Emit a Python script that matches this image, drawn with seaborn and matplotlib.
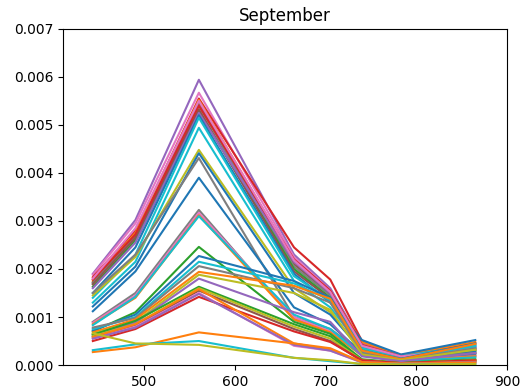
import numpy as np
import pandas as pd
import matplotlib
matplotlib.use("Agg")
import matplotlib.pyplot as plt
import seaborn as sns

bands = [443, 490, 560, 665, 705, 740, 783, 865]

r443 = [0.00190, 0.00188, 0.00183, 0.00175, 0.00172, 0.00170, 0.00163, 0.00168, 0.00160, 0.00150,
        0.00140, 0.00130, 0.00178, 0.00180, 0.00145, 0.00122, 0.00150, 0.00112, 0.00090, 0.00088,
        0.00085, 0.00083, 0.00070, 0.00072, 0.00075, 0.00078, 0.00068, 0.00065, 0.00062, 0.00063,
        0.00060, 0.00058, 0.00055, 0.00050, 0.00058, 0.00055, 0.00027, 0.00031, 0.00066]
r490 = [0.00302, 0.00295, 0.00280, 0.00275, 0.00270, 0.00268, 0.00260, 0.00265, 0.00255, 0.00245,
        0.00230, 0.00215, 0.00272, 0.00285, 0.00225, 0.00205, 0.00230, 0.00195, 0.00150, 0.00145,
        0.00140, 0.00142, 0.00110, 0.00105, 0.00100, 0.00098, 0.00095, 0.00090, 0.00088, 0.00092,
        0.00085, 0.00082, 0.00080, 0.00075, 0.00085, 0.00078, 0.00037, 0.00043, 0.00045]
r560 = [0.00594, 0.00567, 0.00555, 0.00552, 0.00545, 0.00540, 0.00530, 0.00532, 0.00525, 0.00520,
        0.00515, 0.00494, 0.00540, 0.00550, 0.00448, 0.00441, 0.00431, 0.00390, 0.00323, 0.00317,
        0.00312, 0.00310, 0.00246, 0.00227, 0.00215, 0.00206, 0.00194, 0.00188, 0.00180, 0.00163,
        0.00160, 0.00155, 0.00150, 0.00142, 0.00158, 0.00148, 0.00068, 0.00050, 0.00042]
r665 = [0.00230, 0.00225, 0.00245, 0.00215, 0.00210, 0.00205, 0.00200, 0.00195, 0.00215, 0.00190,
        0.00185, 0.00175, 0.00220, 0.00218, 0.00160, 0.00150, 0.00100, 0.00120, 0.00095, 0.00100,
        0.00095, 0.00105, 0.00090, 0.00175, 0.00170, 0.00160, 0.00165, 0.00150, 0.00110, 0.00085,
        0.00080, 0.00075, 0.00040, 0.00070, 0.00045, 0.00042, 0.00045, 0.00015, 0.00015]
r705 = [0.00160, 0.00155, 0.00178, 0.00150, 0.00148, 0.00145, 0.00140, 0.00138, 0.00150, 0.00130,
        0.00135, 0.00120, 0.00155, 0.00152, 0.00110, 0.00105, 0.00075, 0.00085, 0.00070, 0.00070,
        0.00068, 0.00075, 0.00065, 0.00140, 0.00135, 0.00130, 0.00138, 0.00115, 0.00090, 0.00060,
        0.00055, 0.00050, 0.00030, 0.00048, 0.00032, 0.00030, 0.00035, 0.00008, 0.00010]
r740 = [0.00045, 0.00042, 0.00050, 0.00048, 0.00040, 0.00038, 0.00035, 0.00037, 0.00040, 0.00052,
        0.00040, 0.00035, 0.00042, 0.00040, 0.00030, 0.00030, 0.00028, 0.00025, 0.00022, 0.00020,
        0.00020, 0.00020, 0.00012, 0.00030, 0.00028, 0.00025, 0.00030, 0.00022, 0.00018, 0.00010,
        0.00010, 0.00008, 0.00005, 0.00010, 0.00006, 0.00006, 0.00006, 0.00002, 0.00002]
r783 = [0.00020, 0.00019, 0.00020, 0.00021, 0.00018, 0.00017, 0.00015, 0.00016, 0.00018, 0.00022,
        0.00018, 0.00016, 0.00018, 0.00018, 0.00013, 0.00012, 0.00012, 0.00010, 0.00009, 0.00008,
        0.00008, 0.00008, 0.00005, 0.00013, 0.00012, 0.00011, 0.00012, 0.00010, 0.00008, 0.00004,
        0.00004, 0.00004, 0.00003, 0.00004, 0.00003, 0.00003, 0.00003, 0.00001, 0.00001]
r865 = [0.00040, 0.00038, 0.00045, 0.00048, 0.00035, 0.00033, 0.00030, 0.00032, 0.00036, 0.00052,
        0.00042, 0.00038, 0.00025, 0.00034, 0.00030, 0.00028, 0.00025, 0.00022, 0.00020, 0.00018,
        0.00018, 0.00016, 0.00012, 0.00045, 0.00040, 0.00035, 0.00044, 0.00032, 0.00025, 0.00010,
        0.00010, 0.00008, 0.00006, 0.00010, 0.00007, 0.00006, 0.00005, 0.00002, 0.00002]

# tab10 colour index of each sample line
color_idx = [4, 6, 3, 1, 5, 7, 2, 5, 4, 0,
             9, 9, 3, 6, 8, 0, 7, 0, 7, 6,
             1, 9, 2, 0, 9, 7, 1, 8, 4, 2,
             8, 5, 6, 3, 1, 4, 1, 9, 8]

series = [r443, r490, r560, r665, r705, r740, r783, r865]
n = len(r443)
rows = []
for i in range(n):
    for b, s in zip(bands, series):
        rows.append({"sample": i, "band": b, "value": s[i]})
df = pd.DataFrame(rows)

tab10 = sns.color_palette("tab10")
palette = {i: tab10[color_idx[i]] for i in range(n)}

fig, ax = plt.subplots(figsize=(5.2, 3.9), dpi=100)
fig.subplots_adjust(left=0.121, right=0.975, bottom=0.064, top=0.926)

sns.lineplot(data=df, x="band", y="value", hue="sample", palette=palette,
             legend=False, estimator=None, sort=False, linewidth=1.5, ax=ax)

ax.set_xlim(410, 900)
ax.set_ylim(0, 0.007)
ax.set_xticks([500, 600, 700, 800, 900])
ax.set_yticks([0.000, 0.001, 0.002, 0.003, 0.004, 0.005, 0.006, 0.007])
ax.yaxis.set_major_formatter(matplotlib.ticker.FormatStrFormatter("%.3f"))
ax.set_xlabel("")
ax.set_ylabel("")
ax.set_title("September", fontsize=12)

fig.savefig("out.png", dpi=100)
